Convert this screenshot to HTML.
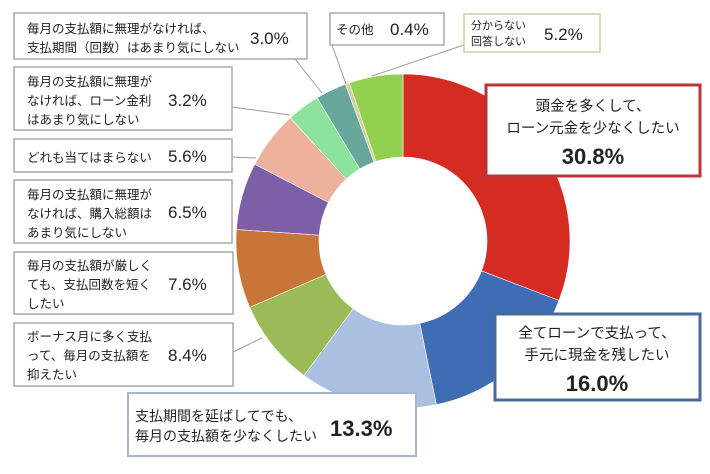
<!DOCTYPE html>
<html><head><meta charset="utf-8"><style>
body{margin:0;background:#fff;width:710px;height:474px;overflow:hidden}
svg{display:block}
text{font-family:"Liberation Sans","Noto Sans CJK JP",sans-serif;fill:#222}
</style></head><body>
<svg id="s" width="710" height="474" viewBox="0 0 710 474">
<g id="pie"></g>
<g stroke="#9a9a9a" stroke-width="1" fill="none">
<line x1="295" y1="59" x2="322" y2="93"/>
<line x1="332" y1="45" x2="346" y2="84"/>
<line x1="464" y1="45" x2="372" y2="76"/>
<line x1="232" y1="107" x2="290" y2="115"/>
<line x1="232" y1="157" x2="256" y2="158"/>
<line x1="233" y1="352" x2="262" y2="338"/>
</g>
<g fill="#fff" stroke="#a8a8a8" stroke-width="1.5">
<rect x="14" y="13" width="293" height="46"/>
<rect x="14" y="67" width="218" height="63"/>
<rect x="14" y="139" width="218" height="33"/>
<rect x="14" y="180" width="218" height="63"/>
<rect x="14" y="252" width="219" height="62"/>
<rect x="14" y="323" width="219" height="63"/>
<rect x="330" y="13" width="114" height="32"/>
<rect x="464" y="14" width="136" height="38" stroke="#c8d0b0"/>
<rect x="128" y="393" width="288" height="63" stroke="#a9b5cc" stroke-width="2"/>
<rect x="486" y="85" width="214" height="91" stroke="#b8343a" stroke-width="3"/>
<rect x="495" y="314" width="205" height="86" stroke="#4a6a9a" stroke-width="3"/>
</g>
<g font-size="12.5">
<text x="27" y="33">毎月の支払額に無理がなければ、</text>
<text x="27" y="52">支払期間（回数）はあまり気にしない</text>
<text x="250" y="44" font-size="17">3.0%</text>
<text x="27" y="86">毎月の支払額に無理が</text>
<text x="27" y="105">なければ、ローン金利</text>
<text x="27" y="124">はあまり気にしない</text>
<text x="168" y="106" font-size="17">3.2%</text>
<text x="27" y="162">どれも当てはまらない</text>
<text x="168" y="162" font-size="17">5.6%</text>
<text x="27" y="199">毎月の支払額に無理が</text>
<text x="27" y="218">なければ、購入総額は</text>
<text x="27" y="237">あまり気にしない</text>
<text x="168" y="218" font-size="17">6.5%</text>
<text x="27" y="270">毎月の支払額が厳しく</text>
<text x="27" y="289">ても、支払回数を短く</text>
<text x="27" y="308">したい</text>
<text x="168" y="290" font-size="17">7.6%</text>
<text x="27" y="341">ボーナス月に多く支払</text>
<text x="27" y="360">って、毎月の支払額を</text>
<text x="27" y="379">抑えたい</text>
<text x="168" y="361" font-size="17">8.4%</text>
<text x="336" y="34">その他</text>
<text x="390" y="35" font-size="17">0.4%</text>
<text x="471" y="29" font-size="11">分からない</text>
<text x="471" y="45" font-size="11">回答しない</text>
<text x="544" y="40" font-size="17">5.2%</text>
<text x="135" y="421" font-size="14">支払期間を延ばしてでも、</text>
<text x="135" y="441" font-size="14">毎月の支払額を少なくしたい</text>
<text x="330" y="436" font-size="22" font-weight="bold">13.3%</text>
<text x="593" y="111" font-size="14.5" text-anchor="middle">頭金を多くして、</text>
<text x="593" y="133" font-size="14.5" text-anchor="middle">ローン元金を少なくしたい</text>
<text x="593" y="164" font-size="22" font-weight="bold" text-anchor="middle">30.8%</text>
<text x="597" y="338" font-size="14.5" text-anchor="middle">全てローンで支払って、</text>
<text x="597" y="360" font-size="14.5" text-anchor="middle">手元に現金を残したい</text>
<text x="597" y="391" font-size="22" font-weight="bold" text-anchor="middle">16.0%</text>
</g>
</svg>
<script>
var d=[[30.8,"#d42c22"],[16.0,"#3f6db5"],[13.3,"#aac0e0"],[8.4,"#9bbb59"],[7.6,"#c87537"],[6.5,"#7c5fa6"],[5.6,"#eeb19c"],[3.2,"#8de39e"],[3.0,"#69a79d"],[0.4,"#d8cfa0"],[5.2,"#92d050"]];
var cx=403,cy=241,R=167,r=84,tot=0;d.forEach(function(e){tot+=e[0]});
var a=0,h="";
function p(rad,ang){return [cx+rad*Math.sin(ang),cy-rad*Math.cos(ang)];}
d.forEach(function(e){var a1=a+e[0]/tot*2*Math.PI;var L=(a1-a)>Math.PI?1:0;
var A=p(R,a),B=p(R,a1),C=p(r,a1),D=p(r,a);
h+='<path fill="'+e[1]+'" stroke="#fff" stroke-width="0.6" d="M'+A+' A'+R+','+R+' 0 '+L+' 1 '+B+' L'+C+' A'+r+','+r+' 0 '+L+' 0 '+D+'Z"/>';a=a1;});
document.getElementById("pie").innerHTML=h;
</script>
</body></html>
